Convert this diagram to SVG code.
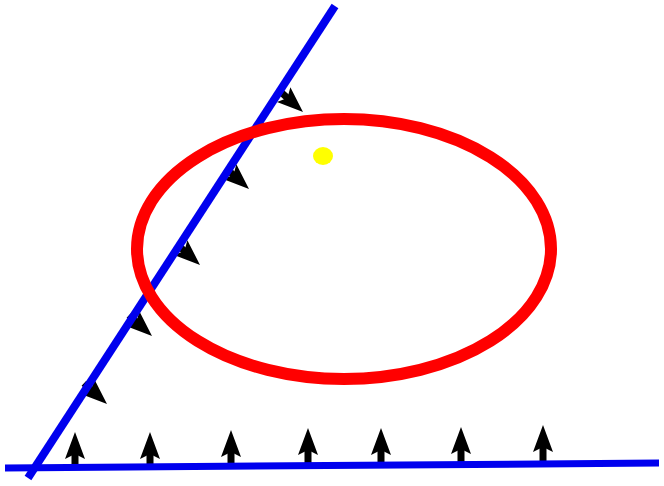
<svg xmlns="http://www.w3.org/2000/svg" xmlns:xlink="http://www.w3.org/1999/xlink" width="664" height="486" viewBox="0 0 664 486">
<defs>
<g id="arr">
<path d="M0,0 L10,27 L0,22 L-10,27 Z" fill="#000"/>
<rect x="-3.5" y="18" width="7" height="18" fill="#000"/>
</g>
<g id="arrs">
<path d="M0,0 L10,26 L0,21 L-10,26 Z" fill="#000"/>
<rect x="-3.5" y="17" width="7" height="14" fill="#000"/>
</g>
</defs>
<rect width="664" height="486" fill="#fff"/>
<g id="arrows-slanted">
<use xlink:href="#arrs" transform="translate(303,112) rotate(132)"/>
<use xlink:href="#arrs" transform="translate(249,189) rotate(132)"/>
<use xlink:href="#arrs" transform="translate(200,265) rotate(132)"/>
<use xlink:href="#arrs" transform="translate(152,336) rotate(132)"/>
<use xlink:href="#arrs" transform="translate(107,404) rotate(132)"/>
</g>
<g id="arrows-bottom">
<use xlink:href="#arr" transform="translate(75,432)"/>
<use xlink:href="#arr" transform="translate(150,432)"/>
<use xlink:href="#arr" transform="translate(231,430)"/>
<use xlink:href="#arr" transform="translate(308,428)"/>
<use xlink:href="#arr" transform="translate(381,428)"/>
<use xlink:href="#arr" transform="translate(461,427)"/>
<use xlink:href="#arr" transform="translate(543,425)"/>
</g>
<g id="lines">
<line x1="335" y1="6" x2="28" y2="478" stroke="#0000ee" stroke-width="8"/>
<line x1="5" y1="468" x2="659" y2="463" stroke="#0000ee" stroke-width="7"/>
</g>
<g id="ellipse">
<ellipse cx="344" cy="249" rx="207" ry="130" fill="none" stroke="#ff0000" stroke-width="12"/>
</g>
<g id="dot">
<ellipse cx="323" cy="156" rx="10" ry="9" fill="#ffff00"/>
</g>
</svg>
